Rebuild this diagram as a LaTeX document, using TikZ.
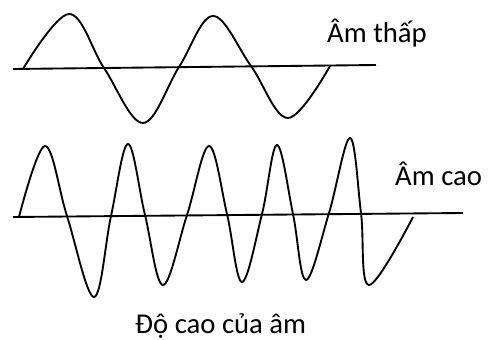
\documentclass[tikz,border=0pt]{standalone}
\usepackage{fontspec}
\setmainfont{Carlito}
\usepackage{tikz}

\begin{document}
\begin{tikzpicture}[x=0.03cm,y=-0.03cm,
  w/.style={line width=1.6pt,line join=round},
  ax/.style={line width=1.6pt},
  lbl/.style={font=\fontsize{24.5}{29}\selectfont,inner sep=0pt}
]
\useasboundingbox (0,0) rectangle (493,340);
% low sound
\coordinate (a1) at (13,69);
\coordinate (a2) at (376,65);
\draw[ax] (a1) -- (a2);
\draw[w] plot[smooth,tension=0.6] coordinates {(23,69) (69,14) (104,68) (143,123)
  (179,67) (213,16) (251,66) (288,118) (330,66)};
\node[lbl,anchor=base west] (lo) at (327,43) {Âm thấp};
% high sound
\coordinate (b1) at (13,217);
\coordinate (b2) at (463,213);
\draw[ax] (b1) -- (b2);
\draw[w] plot[smooth,tension=0.6] coordinates {(19,217) (45,146) (67,216) (94,297)
  (111,216) (128,144) (145,215) (163,285) (187,215) (209,146) (227,214) (242,282)
  (262,214) (277,145) (293,214) (306,280) (329,213) (350,138) (361,213) (369,285)
  (413,217)};
\node[lbl,anchor=base west] (hi) at (395,186) {Âm cao};
\node[lbl,anchor=base west] (cap) at (135,333) {Độ cao của âm};
\end{tikzpicture}
\end{document}
